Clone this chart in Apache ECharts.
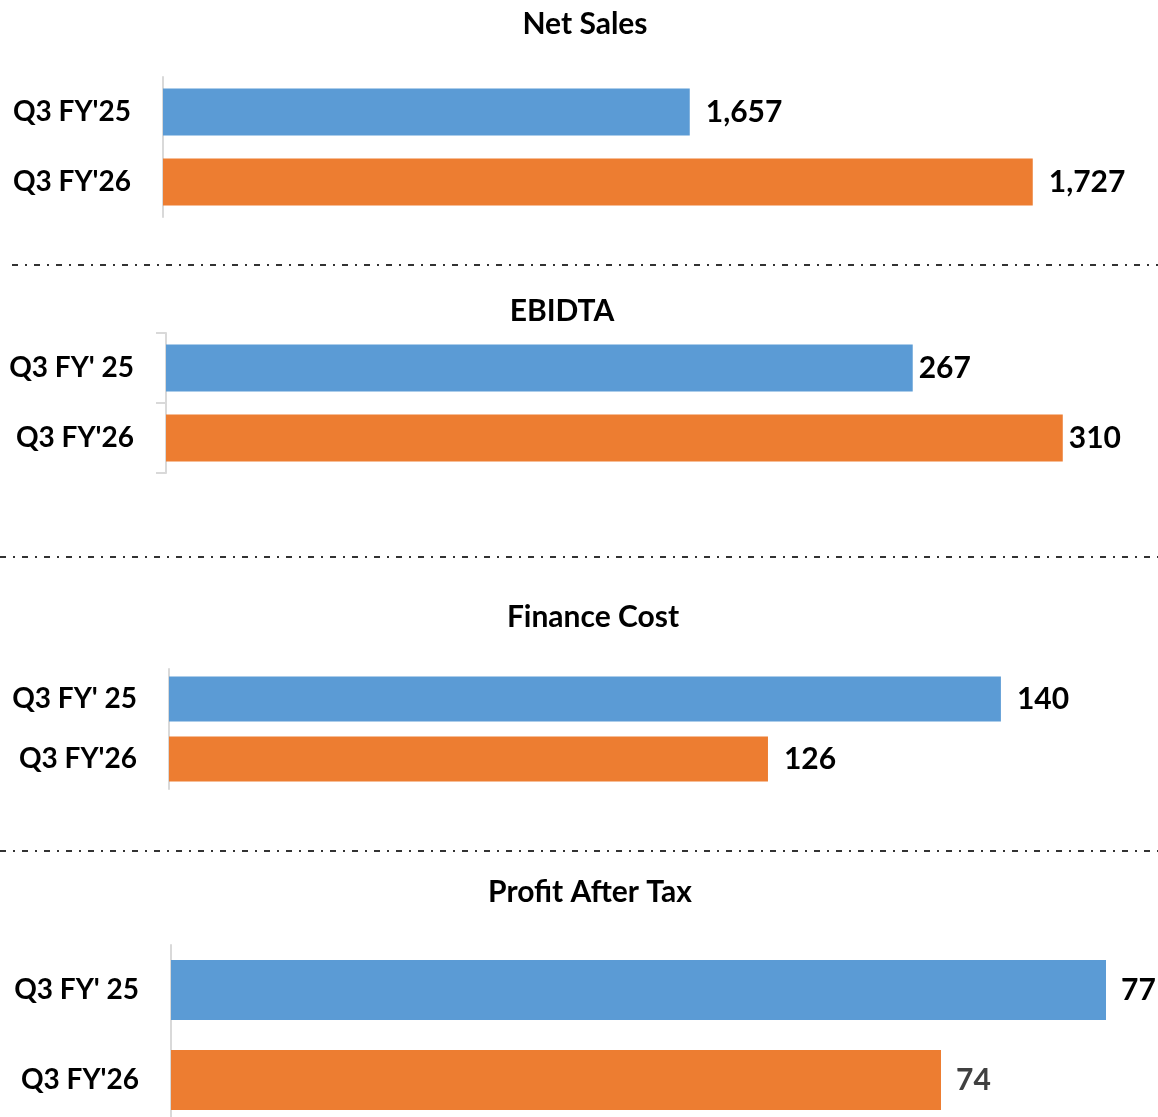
<!DOCTYPE html>
<html>
<head>
<meta charset="utf-8">
<script src="https://cdn.jsdelivr.net/npm/echarts@6/dist/echarts.min.js"></script>
<style>
html,body{margin:0;padding:0;background:#fff;}
#chart{width:1158px;height:1117px;}
</style>
</head>
<body>
<div id="chart"></div>
<script>
// ---- data ----
const panelTitles = ['Net Sales', 'EBIDTA', 'Finance Cost', 'Profit After Tax'];
const netSalesCats = ["Q3 FY'25", "Q3 FY'26"];
const netSalesValues = [1657, 1727];
const ebidtaCats = ["Q3 FY' 25", "Q3 FY'26"];
const ebidtaValues = [267, 310];
const financeCats = ["Q3 FY' 25", "Q3 FY'26"];
const financeValues = [140, 126];
const patCats = ["Q3 FY' 25", "Q3 FY'26"];
const patValues = [77, 74];

const BLUE = '#5B9BD5', ORANGE = '#ED7D31';
const FONT = 'Lato';

const panels = [
  {title: panelTitles[0], cats: netSalesCats, values: netSalesValues, min: 1549.5, max: 1749.5,
   left: 163, right: 1143, top: 77, height: 140, bar: 47, titleX: 585, titleY: 24, dist: 16, ticks: false},
  {title: panelTitles[1], cats: ebidtaCats, values: ebidtaValues, min: 53, max: 335,
   left: 166, right: 1150, top: 333, height: 140, bar: 47, titleX: 562, titleY: 311, dist: 6, ticks: true},
  {title: panelTitles[2], cats: financeCats, values: financeValues, min: 90, max: 148,
   left: 169, right: 1134, top: 669, height: 120, bar: 45, titleX: 593, titleY: 617, dist: 16, ticks: false},
  {title: panelTitles[3], cats: patCats, values: patValues, min: 60, max: 77.5,
   left: 171, right: 1133.5, top: 945, height: 180, bar: 60, titleX: 590, titleY: 892, dist: 15, ticks: false}
];

const option = {
  animation: false,
  backgroundColor: '#fff',
  grid: [], xAxis: [], yAxis: [], series: [],
  graphic: []
};

panels.forEach((p, i) => {
  option.grid.push({left: p.left, width: p.right - p.left, top: p.top, height: p.height,
                    containLabel: false, outerBoundsMode: 'none'});
  option.xAxis.push({type: 'value', gridIndex: i, min: p.min, max: p.max, show: false});
  option.yAxis.push({
    type: 'category', gridIndex: i, data: p.cats, inverse: true,
    axisLine: {show: true, lineStyle: {color: '#d9d9d9', width: 2}},
    axisTick: {show: p.ticks, length: 10, lineStyle: {color: '#d9d9d9', width: 2}},
    axisLabel: {margin: 32, color: '#000', fontFamily: FONT, fontWeight: 'bold', fontSize: 28}
  });
  option.series.push({
    type: 'bar', xAxisIndex: i, yAxisIndex: i, barWidth: p.bar,
    data: p.values.map((v, j) => ({
      value: v,
      itemStyle: {color: j === 0 ? BLUE : ORANGE},
      label: {color: (i === 3 && j === 1) ? '#404040' : '#000'}
    })),
    label: {
      show: true, position: 'right', distance: p.dist,
      fontFamily: FONT, fontWeight: 'bold', fontSize: 30,
      formatter: (d) => d.value.toLocaleString('en-US')
    }
  });
});

option.graphic = panels.map(p => ({
  type: 'text', x: p.titleX, y: p.titleY,
  style: {text: p.title, font: 'bold 30px ' + FONT, fill: '#000', align: 'center', verticalAlign: 'middle'}
}));

const sepY = [265, 557, 851];
const sepX0 = [12, 0, 0];
sepY.forEach((y, k) => {
  option.graphic.push({
    type: 'line', shape: {x1: sepX0[k], y1: y, x2: 1158, y2: y},
    style: {stroke: '#333', lineWidth: 2, lineDash: [6, 7, 2, 7]}
  });
});

const chart = echarts.init(document.getElementById('chart'), null, {renderer: 'canvas'});
chart.setOption(option);
</script>
</body>
</html>
